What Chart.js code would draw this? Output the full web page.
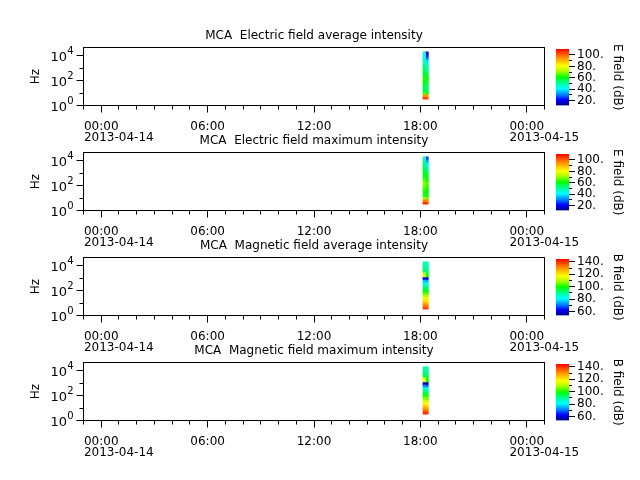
<!DOCTYPE html>
<html>
<head>
<meta charset="utf-8">
<script src="https://cdn.jsdelivr.net/npm/chart.js@4.4.1/dist/chart.umd.min.js"></script>
<style>
  html, body { margin: 0; padding: 0; background: #fff; }
  #page { position: relative; width: 640px; height: 480px; overflow: hidden; }
  #page canvas { position: absolute; }
</style>
</head>
<body>
<div id="page"></div>
<script>
// time axis in hours since 2013-04-14 00:00
const timeTickHours = [0, 6, 12, 18, 24];
const timeTickLabels = ['00:00', '06:00', '12:00', '18:00', '00:00'];
const dateTickHours = [0, 24];
const dateTickLabels = ['2013-04-14', '2013-04-15'];

// frequency axis (Hz)
const freqMajor = [1, 100, 10000];
const freqMajorExp = ['0', '2', '4'];
const freqMinor = [10, 1000];

const panelTitles = [
  'MCA  Electric field average intensity',
  'MCA  Electric field maximum intensity',
  'MCA  Magnetic field average intensity',
  'MCA  Magnetic field maximum intensity'
];
const barTitles = ['E field (dB)', 'E field (dB)', 'B field (dB)', 'B field (dB)'];

// colour bar scales (dB)
const eRange = [11.5, 110.5];
const eTicks = [20, 40, 60, 80, 100];
const eMinor = [30, 50, 70, 90];
const bRange = [53.5, 144.5];
const bTicks = [60, 80, 100, 120, 140];
const bMinor = [70, 90, 110, 130];

// spectrogram: two time columns, frequency bins from low to high
const columnHours = [18.22, 18.37];
const freqEdges = [3.2, 5, 8, 12.5, 20, 32, 50, 80, 125, 200, 320, 500, 800, 1250, 2000, 3200, 5000, 8000, 12500, 20000];

const eAvgCol1 = [104, 95, 66, 58, 56, 57, 60, 62, 64, 60, 58, 56, 55, 52, 50, 48, 46, 45, 44];
const eAvgCol2 = [102, 93, 62, 56, 54, 55, 57, 58, 60, 57, 55, 52, 50, 48, 44, 38, 30, 24, 20];
const eMaxCol1 = [106, 97, 72, 64, 62, 63, 66, 68, 70, 66, 64, 62, 60, 58, 56, 54, 52, 50, 48];
const eMaxCol2 = [104, 95, 68, 62, 60, 60, 62, 64, 66, 62, 60, 58, 56, 54, 50, 46, 40, 32, 26];
const bAvgCol1 = [138, 133, 127, 121, 116, 110, 104, 99, 94, 88, 85, 76, 60, 114, 110, 94, 90, 88, 87];
const bAvgCol2 = [137, 132, 126, 120, 115, 109, 103, 98, 93, 87, 84, 74, 62, 98, 96, 92, 89, 87, 86];
const bMaxCol1 = [140, 135, 129, 123, 118, 112, 106, 101, 96, 90, 86, 72, 58, 118, 114, 96, 92, 90, 89];
const bMaxCol2 = [139, 134, 128, 122, 117, 111, 105, 100, 95, 89, 85, 70, 60, 100, 98, 94, 91, 89, 88];

const rainbow = [
  [0.00, [0, 0, 130]],
  [0.10, [0, 0, 255]],
  [0.20, [0, 140, 255]],
  [0.30, [0, 255, 255]],
  [0.42, [0, 255, 120]],
  [0.50, [0, 255, 0]],
  [0.60, [160, 255, 0]],
  [0.70, [255, 255, 0]],
  [0.85, [255, 140, 0]],
  [1.00, [255, 0, 0]]
];

function colorAt(t) {
  t = Math.max(0, Math.min(1, t));
  for (let i = 1; i < rainbow.length; i++) {
    const [t1, c1] = rainbow[i];
    const [t0, c0] = rainbow[i - 1];
    if (t <= t1) {
      const f = (t - t0) / (t1 - t0);
      const c = c0.map((v, k) => Math.round(v + (c1[k] - v) * f));
      return `rgb(${c[0]},${c[1]},${c[2]})`;
    }
  }
  return 'rgb(255,0,0)';
}

const FONT = '12px "DejaVu Sans"';
const BASE_FONT = '13px "DejaVu Sans"';
const EXP_FONT = '10px "DejaVu Sans"';

const panelDecor = {
  id: 'panelDecor',
  afterDraw(chart, args, opts) {
    const { ctx, chartArea: a, scales: { x, y } } = chart;
    const crisp = v => Math.floor(v) + 0.5;
    ctx.save();
    ctx.strokeStyle = '#000';
    ctx.fillStyle = '#000';
    ctx.lineWidth = 1;
    ctx.strokeRect(a.left, a.top, a.right - a.left, a.bottom - a.top);

    ctx.beginPath();
    for (let h = -1; h <= 25; h++) {
      const px = crisp(x.getPixelForValue(h));
      const len = timeTickHours.includes(h) ? 7 : 4;
      ctx.moveTo(px, a.bottom);
      ctx.lineTo(px, a.bottom + len);
    }
    freqMajor.forEach(f => {
      const py = crisp(y.getPixelForValue(f));
      ctx.moveTo(a.left, py);
      ctx.lineTo(a.left - 7, py);
    });
    freqMinor.forEach(f => {
      const py = crisp(y.getPixelForValue(f));
      ctx.moveTo(a.left, py);
      ctx.lineTo(a.left - 4, py);
    });
    ctx.stroke();

    ctx.font = FONT;
    ctx.textBaseline = 'alphabetic';
    ctx.textAlign = 'center';
    timeTickHours.forEach((h, i) => {
      ctx.fillText(timeTickLabels[i], x.getPixelForValue(h), a.bottom + 24);
    });
    ctx.textAlign = 'left';
    dateTickHours.forEach((h, i) => {
      const w = ctx.measureText('00:00').width;
      ctx.fillText(dateTickLabels[i], x.getPixelForValue(h) - w / 2, a.bottom + 35);
    });

    freqMajor.forEach((f, i) => {
      const py = y.getPixelForValue(f);
      ctx.font = EXP_FONT;
      const ew = ctx.measureText(freqMajorExp[i]).width;
      const right = a.left - 10 - ew;
      ctx.textAlign = 'left';
      ctx.fillText(freqMajorExp[i], right, py - 1.5);
      ctx.font = BASE_FONT;
      ctx.textAlign = 'right';
      ctx.fillText('10', right, py + 5.5);
    });

    ctx.font = FONT;
    ctx.textAlign = 'center';
    ctx.fillText(opts.title, (a.left + a.right) / 2, a.top - 8.5);

    ctx.save();
    ctx.translate(36, (a.top + a.bottom) / 2);
    ctx.rotate(-Math.PI / 2);
    ctx.textBaseline = 'middle';
    ctx.fillText('Hz', 0, 0);
    ctx.restore();
    ctx.restore();
  }
};

const barDecor = {
  id: 'barDecor',
  afterDraw(chart, args, opts) {
    const { ctx, chartArea: a, scales: { y } } = chart;
    const crisp = v => Math.floor(v) + 0.5;
    ctx.save();
    ctx.strokeStyle = '#000';
    ctx.fillStyle = '#000';
    ctx.lineWidth = 1;
    ctx.beginPath();
    opts.ticks.forEach(v => {
      const py = crisp(y.getPixelForValue(v));
      ctx.moveTo(a.right, py);
      ctx.lineTo(a.right + 6, py);
    });
    opts.minor.forEach(v => {
      const py = crisp(y.getPixelForValue(v));
      ctx.moveTo(a.right, py);
      ctx.lineTo(a.right + 3, py);
    });
    ctx.stroke();
    ctx.font = FONT;
    ctx.textAlign = 'left';
    ctx.textBaseline = 'middle';
    opts.ticks.forEach(v => {
      ctx.fillText(v + '.', a.right + 8, y.getPixelForValue(v));
    });
    ctx.translate(77.5, (a.top + a.bottom) / 2);
    ctx.rotate(Math.PI / 2);
    ctx.textAlign = 'center';
    ctx.fillText(opts.title, 0, 0);
    ctx.restore();
  }
};

const panels = [
  { cols: [eAvgCol1, eAvgCol2], range: eRange, ticks: eTicks, minor: eMinor },
  { cols: [eMaxCol1, eMaxCol2], range: eRange, ticks: eTicks, minor: eMinor },
  { cols: [bAvgCol1, bAvgCol2], range: bRange, ticks: bTicks, minor: bMinor },
  { cols: [bMaxCol1, bMaxCol2], range: bRange, ticks: bTicks, minor: bMinor }
];

const page = document.getElementById('page');

function makeCanvas(left, top, w, h) {
  const c = document.createElement('canvas');
  c.width = w;
  c.height = h;
  c.style.left = left + 'px';
  c.style.top = top + 'px';
  c.style.width = w + 'px';
  c.style.height = h + 'px';
  page.appendChild(c);
  return c;
}

panels.forEach((p, i) => {
  const top = 20 + 105 * i;
  const [lo, hi] = p.range;

  const datasets = p.cols.map((vals, c) => ({
    data: vals.map((v, k) => ({ x: columnHours[c], y: [freqEdges[k], freqEdges[k + 1]] })),
    backgroundColor: vals.map(v => colorAt((v - lo) / (hi - lo))),
    borderWidth: 0,
    grouped: false,
    barPercentage: 1,
    categoryPercentage: 1
  }));

  new Chart(makeCanvas(0, top, 640, 125), {
    type: 'bar',
    data: { datasets },
    options: {
      responsive: false,
      animation: false,
      events: [],
      layout: { padding: { left: 83.5, right: 95.5, top: 27.5, bottom: 39.5 } },
      scales: {
        x: { type: 'linear', display: false, min: -1, max: 25, offset: false },
        y: { type: 'logarithmic', display: false, min: 1, max: 45000 }
      },
      plugins: {
        legend: { display: false },
        tooltip: { enabled: false },
        panelDecor: { title: panelTitles[i] }
      }
    },
    plugins: [panelDecor]
  });

  new Chart(makeCanvas(540, top, 100, 125), {
    type: 'bar',
    data: {
      labels: [''],
      datasets: [{
        data: [[lo, hi]],
        borderWidth: 0,
        barPercentage: 1,
        categoryPercentage: 1,
        backgroundColor(context) {
          const chart = context.chart;
          if (!chart.chartArea) return null;
          const ys = chart.scales.y;
          const g = chart.ctx.createLinearGradient(0, ys.getPixelForValue(lo), 0, ys.getPixelForValue(hi));
          rainbow.forEach(([t, c]) => g.addColorStop(t, `rgb(${c[0]},${c[1]},${c[2]})`));
          return g;
        }
      }]
    },
    options: {
      responsive: false,
      animation: false,
      events: [],
      layout: { padding: { left: 16, right: 71, top: 29, bottom: 39.5 } },
      scales: {
        x: { display: false },
        y: { display: false, min: lo, max: hi }
      },
      plugins: {
        legend: { display: false },
        tooltip: { enabled: false },
        barDecor: { ticks: p.ticks, minor: p.minor, title: barTitles[i] }
      }
    },
    plugins: [barDecor]
  });
});
</script>
</body>
</html>
